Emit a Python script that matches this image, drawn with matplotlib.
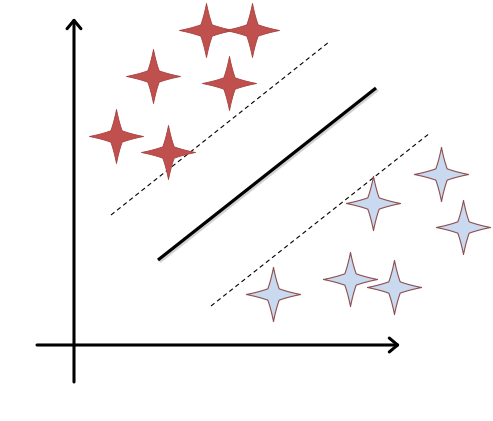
import numpy as np
import matplotlib
matplotlib.use("Agg")
import matplotlib.pyplot as plt
from matplotlib.path import Path
import matplotlib.patheffects as pe

# star centres (image pixel coordinates)
red_x = [206, 252, 153, 229, 116, 168]
red_y = [30, 30, 76, 83, 136, 152]
blue_x = [441, 373, 463, 350, 394, 273]
blue_y = [174, 203, 227, 279, 287, 294]

# separating line and margins
sep_x = [158, 376]
sep_y = [260, 88]
upper_x = [111, 329]
upper_y = [215, 42]
lower_x = [211, 430]
lower_y = [306, 133]

# 4-point star marker: sharp tips, slightly concave sides
verts = []
tips = [(1, 0), (0, 1), (-1, 0), (0, -1)]
for i in range(4):
    a = np.array(tips[i], float)
    b = np.array(tips[(i + 1) % 4], float)
    inner = (a + b) * 0.21
    for s in np.linspace(0, 1, 12, endpoint=False):
        p = (1 - s) ** 2 * a + 2 * s * (1 - s) * ((a + inner) / 2 * 0.88) + s ** 2 * inner
        verts.append(p)
    for s in np.linspace(0, 1, 12, endpoint=False):
        p = (1 - s) ** 2 * inner + 2 * s * (1 - s) * ((b + inner) / 2 * 0.88) + s ** 2 * b
        verts.append(p)
star = Path(np.array(verts), closed=True)

fig = plt.figure(figsize=(4.93, 4.21), dpi=100)
ax = fig.add_axes([0, 0, 1, 1])
ax.set_xlim(0, 493)
ax.set_ylim(421, 0)
ax.axis('off')

# axes arrows
arrow = dict(arrowstyle='->,head_length=0.6,head_width=0.5', lw=2.2,
             color='black', shrinkA=0, shrinkB=0)
ax.annotate('', xy=(74, 18), xytext=(74, 382), arrowprops=arrow)
ax.annotate('', xy=(400, 345), xytext=(37, 345), arrowprops=arrow)

ax.plot(sep_x, sep_y, color='black', lw=2.3, solid_capstyle='butt',
        path_effects=[pe.SimpleLineShadow(offset=(1.2, -1.2), shadow_color='gray', alpha=0.35),
                      pe.Normal()])
ax.plot(upper_x, upper_y, color='black', lw=0.8, linestyle=(0, (4, 3)))
ax.plot(lower_x, lower_y, color='black', lw=0.8, linestyle=(0, (4, 3)))

ax.scatter(red_x, red_y, s=1520, marker=star, color='#C0504D',
           edgecolors='#A8413F', linewidths=0.6, zorder=3)
ax.scatter(blue_x, blue_y, s=1520, marker=star, color='#C9D9EF',
           edgecolors='#8E4F4F', linewidths=0.8, zorder=3)

fig.savefig('out.png', dpi=100)
